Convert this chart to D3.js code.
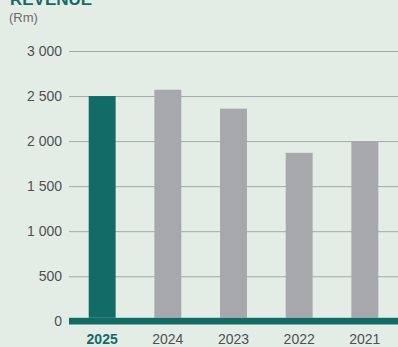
<!DOCTYPE html>
<html>
<head>
<meta charset="utf-8">
<script src="https://cdn.jsdelivr.net/npm/d3@7"></script>
<style>
  html, body { margin: 0; padding: 0; background: #e3ede6; }
  svg { display: block; font-family: "Liberation Sans", Arial, sans-serif; }
</style>
</head>
<body>
<div id="chart"></div>
<script>
var years = ["2025", "2024", "2023", "2022", "2021"],
    revenue = [2500, 2570, 2360, 1870, 2000],
    yTicks = [0, 500, 1000, 1500, 2000, 2500, 3000],
    teal = "#136b66",
    grey = "#a7a8ab",
    width = 398,
    height = 347,
    margin = { top: 51, bottom: 26, left: 69, right: 0 };

var svg = d3.select("#chart")
    .append("svg")
    .attr("width", width)
    .attr("height", height);

svg.append("rect")
    .attr("width", width)
    .attr("height", height)
    .attr("fill", "#e3ede6");

var x = d3.scaleBand()
    .domain(years)
    .range([margin.left, width])
    .paddingInner(0.59)
    .paddingOuter(0.3);

var y = d3.scaleLinear()
    .domain([0, 3000])
    .range([321.3, margin.top]);

// title (cut off at the top, as in the original)
svg.append("text")
    .attr("x", 10)
    .attr("y", 5)
    .attr("fill", teal)
    .style("font-size", "17px")
    .style("font-weight", "bold")
    .text("REVENUE");

svg.append("text")
    .attr("x", 9)
    .attr("y", 22)
    .attr("fill", "#6b6b6b")
    .style("font-size", "13px")
    .text("(Rm)");

// gridlines + tick labels
var yAxis = svg.append("g")
    .attr("transform", "translate(" + margin.left + ",0)")
    .call(d3.axisLeft(y)
        .tickValues(yTicks)
        .tickSize(-(width - margin.left))
        .tickPadding(7)
        .tickFormat(function (d) { return d3.format(",")(d).replace(",", " "); }));

yAxis.select(".domain").remove();
yAxis.selectAll(".tick line")
    .attr("stroke", "#a5a8a8")
    .attr("stroke-width", 1);
yAxis.selectAll(".tick text")
    .attr("fill", "#505050")
    .style("font-size", "14px");

// bars
svg.selectAll(".bar")
    .data(years)
    .enter()
    .append("rect")
    .attr("class", "bar")
    .attr("x", function (d) { return x(d); })
    .attr("width", x.bandwidth())
    .attr("y", function (d, i) { return y(revenue[i]); })
    .attr("height", function (d, i) { return y(0) - 3.5 - y(revenue[i]); })
    .attr("fill", function (d, i) { return i === 0 ? teal : grey; });

// thick baseline
svg.append("rect")
    .attr("x", margin.left)
    .attr("y", y(0) - 3.5)
    .attr("width", width - margin.left)
    .attr("height", 6.7)
    .attr("fill", teal);

// x labels
var xAxis = svg.append("g")
    .attr("transform", "translate(0," + (y(0) + 3) + ")")
    .call(d3.axisBottom(x).tickSize(0).tickPadding(10));

xAxis.select(".domain").remove();
xAxis.selectAll(".tick text")
    .attr("fill", function (d, i) { return i === 0 ? teal : "#505050"; })
    .style("font-weight", function (d, i) { return i === 0 ? "bold" : "normal"; })
    .style("font-size", "14px");
</script>
</body>
</html>
